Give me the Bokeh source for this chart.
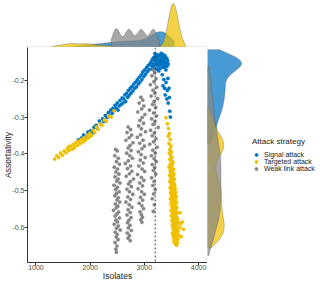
import numpy as np
from bokeh.plotting import figure
from bokeh.models import Span, Legend, LegendItem, Range1d, FixedTicker, PrintfTickFormatter, Spacer
from bokeh.layouts import column, row
from bokeh.embed import file_html
from bokeh.resources import INLINE

FONT = "Liberation Sans"
strategies = ["Signal attack", "Targeted attack", "Weak link attack"]
palette = ["#0073C2", "#EFC000", "#868686"]
x_ticks = [1000, 2000, 3000, 4000]
y_ticks = [-0.6, -0.5, -0.4, -0.3, -0.2]
threshold = 3200

# ---- Signal attack (blue) ----
signal_arm_low = [(1785,-0.362),(1840,-0.357),(1880,-0.349),(1925,-0.352),(1960,-0.341),(2010,-0.337),
    (2045,-0.343),(2070,-0.328),(2110,-0.322),(2135,-0.331),(2170,-0.311),(2195,-0.318),(2230,-0.305),
    (2255,-0.312),(2280,-0.296),(2310,-0.301),(2335,-0.288),(2350,-0.297),(2380,-0.281),(2405,-0.290),(2420,-0.276)]
signal_arm_mid = [(2440,-0.283),(2460,-0.268),(2480,-0.276),(2500,-0.262),(2515,-0.281),(2535,-0.270),(2550,-0.255),
    (2570,-0.266),(2590,-0.248),(2605,-0.262),(2620,-0.251),(2640,-0.240),(2655,-0.258),(2670,-0.236),(2690,-0.247),
    (2705,-0.228),(2720,-0.241),(2740,-0.222),(2755,-0.235),(2770,-0.217),(2790,-0.229),(2805,-0.210),(2820,-0.222),
    (2840,-0.205),(2855,-0.218),(2870,-0.199),(2890,-0.210),(2905,-0.192),(2920,-0.205),(2940,-0.186),(2955,-0.198),
    (2970,-0.178),(2990,-0.190),(3005,-0.172),(3020,-0.184),(3040,-0.166),(3055,-0.177),(3070,-0.160),(3090,-0.171),(3105,-0.155)]
signal_peak = [(3125,-0.150),(3140,-0.162),(3150,-0.143),(3165,-0.155),(3175,-0.138),(3185,-0.168),(3195,-0.147),
    (3205,-0.135),(3215,-0.158),(3225,-0.142),(3232,-0.170),(3240,-0.131),(3248,-0.151),(3255,-0.162),(3262,-0.139),
    (3270,-0.147),(3278,-0.133),(3285,-0.156),(3292,-0.168),(3300,-0.141),(3308,-0.150),(3315,-0.136),(3322,-0.160),
    (3330,-0.144),(3338,-0.131),(3345,-0.153),(3352,-0.165),(3360,-0.139),(3368,-0.148),(3375,-0.157),(3383,-0.134),
    (3390,-0.145),(3398,-0.172),(3405,-0.152),(3413,-0.140),(3420,-0.161),(3430,-0.147),(3440,-0.156),(3265,-0.175),
    (3195,-0.128),(3310,-0.127),(3355,-0.131),(3175,-0.160),(3235,-0.153),(3290,-0.137),(3345,-0.143),(3400,-0.163),(3150,-0.170)]
signal_tail = [(3330,-0.185),(3360,-0.198),(3345,-0.215),(3400,-0.206),(3425,-0.228),(3385,-0.240),(3455,-0.222),
    (3440,-0.262),(3470,-0.284),(3415,-0.251),(3375,-0.222),(3462,-0.247),(3435,-0.195),(3480,-0.300)]

# ---- Targeted attack (yellow) ----
targeted_arm_left = [(1345,-0.414),(1385,-0.405),(1420,-0.410),(1455,-0.398),(1490,-0.404),(1520,-0.392),(1555,-0.397),
    (1580,-0.386),(1610,-0.391),(1640,-0.379),(1665,-0.387),(1690,-0.374),(1715,-0.380),(1740,-0.369),(1765,-0.377),
    (1790,-0.365),(1815,-0.372),(1840,-0.361),(1865,-0.368),(1890,-0.356),(1915,-0.362),(1940,-0.350),(1970,-0.357),
    (1995,-0.344),(2025,-0.350),(2055,-0.336),(2085,-0.342),(2115,-0.327),(2150,-0.333),(2185,-0.318),(2220,-0.323),
    (2260,-0.308),(2300,-0.312),(2340,-0.297),(2390,-0.300),(2440,-0.283),(1700,-0.385),(1600,-0.381),(1880,-0.364),(2000,-0.352)]
targeted_arm_right_top = [(3398,-0.302),(3425,-0.318),(3445,-0.331),(3462,-0.345),(3440,-0.352),(3478,-0.361),(3455,-0.372),
    (3490,-0.379),(3470,-0.388),(3500,-0.395),(3462,-0.398),(3485,-0.405),(3510,-0.410),(3470,-0.415),(3495,-0.419),
    (3530,-0.423),(3480,-0.428),(3515,-0.431),(3455,-0.436),(3500,-0.439),(3540,-0.442),(3475,-0.446),(3520,-0.449),
    (3490,-0.452),(3545,-0.455),(3465,-0.458),(3510,-0.461),(3530,-0.464),(3485,-0.467),(3555,-0.469),(3500,-0.472),
    (3470,-0.475),(3525,-0.477),(3545,-0.480),(3490,-0.482),(3515,-0.484),(3560,-0.486)]
targeted_arm_right_low = [(3505,-0.488),(3540,-0.490),(3475,-0.492),(3570,-0.494),(3525,-0.496),(3495,-0.498),(3555,-0.500),
    (3515,-0.502),(3580,-0.504),(3485,-0.506),(3545,-0.508),(3530,-0.510),(3565,-0.512),(3500,-0.514),(3590,-0.516),
    (3520,-0.518),(3550,-0.520),(3480,-0.522),(3575,-0.524),(3535,-0.526),(3510,-0.528),(3560,-0.530),(3595,-0.532),
    (3490,-0.534),(3545,-0.536),(3525,-0.538),(3570,-0.540),(3505,-0.542),(3555,-0.544),(3600,-0.546),(3535,-0.548),
    (3515,-0.550),(3580,-0.552),(3495,-0.554),(3560,-0.556),(3540,-0.558),(3610,-0.560),(3520,-0.562),(3575,-0.564),
    (3550,-0.566),(3500,-0.568),(3590,-0.570),(3530,-0.572),(3565,-0.574),(3615,-0.576),(3545,-0.578),(3510,-0.580),
    (3585,-0.582),(3555,-0.584),(3625,-0.586),(3525,-0.588),(3570,-0.590),(3600,-0.592),(3540,-0.594),(3515,-0.596),
    (3580,-0.598),(3635,-0.600),(3555,-0.602),(3530,-0.604),(3595,-0.606),(3565,-0.608),(3620,-0.610),(3545,-0.612),
    (3585,-0.614),(3520,-0.616),(3605,-0.618),(3560,-0.620),(3640,-0.622),(3535,-0.624),(3575,-0.626),(3600,-0.628),
    (3550,-0.630),(3620,-0.632),(3565,-0.634),(3590,-0.636),(3545,-0.639),(3610,-0.642),(3575,-0.645),(3595,-0.648),
    (3720,-0.605),(3700,-0.585),(3680,-0.625),(3660,-0.560),(3650,-0.600),(3670,-0.590)]

# ---- Weak link attack (grey), four columns ----
weak_col1 = [(2470,-0.388),(2500,-0.392),(2455,-0.405),(2520,-0.412),(2485,-0.421),(2540,-0.428),(2445,-0.436),(2505,-0.441),
    (2475,-0.449),(2530,-0.455),(2460,-0.462),(2515,-0.468),(2490,-0.474),(2550,-0.479),(2440,-0.485),(2500,-0.491),
    (2470,-0.497),(2535,-0.503),(2485,-0.508),(2455,-0.514),(2520,-0.519),(2495,-0.525),(2545,-0.531),(2465,-0.536),
    (2510,-0.542),(2480,-0.547),(2430,-0.553),(2525,-0.558),(2495,-0.563),(2460,-0.569),(2540,-0.574),(2475,-0.580),
    (2505,-0.585),(2445,-0.591),(2520,-0.596),(2485,-0.602),(2555,-0.607),(2465,-0.613),(2500,-0.619),(2480,-0.626),
    (2515,-0.633),(2460,-0.641),(2495,-0.650),(2475,-0.659),(2485,-0.667)]
weak_col2 = [(2700,-0.327),(2745,-0.334),(2680,-0.342),(2765,-0.349),(2720,-0.356),(2660,-0.363),(2790,-0.370),(2735,-0.377),
    (2700,-0.384),(2755,-0.391),(2675,-0.398),(2730,-0.405),(2780,-0.412),(2705,-0.419),(2650,-0.426),(2745,-0.433),
    (2690,-0.440),(2770,-0.447),(2725,-0.454),(2665,-0.461),(2800,-0.468),(2740,-0.475),(2710,-0.482),(2760,-0.489),
    (2680,-0.496),(2725,-0.503),(2785,-0.510),(2695,-0.517),(2745,-0.524),(2660,-0.531),(2720,-0.538),(2770,-0.545),
    (2700,-0.552),(2740,-0.559),(2680,-0.566),(2755,-0.573),(2715,-0.580),(2690,-0.587),(2735,-0.594),(2705,-0.601),
    (2760,-0.608),(2685,-0.615),(2725,-0.622),(2700,-0.629),(2740,-0.636)]
weak_col3 = [(2935,-0.246),(2970,-0.254),(2905,-0.262),(2990,-0.270),(2950,-0.278),(2880,-0.286),(3010,-0.293),(2960,-0.301),
    (2920,-0.309),(2985,-0.317),(2895,-0.324),(2945,-0.332),(3020,-0.340),(2930,-0.348),(2870,-0.355),(2975,-0.363),
    (2915,-0.371),(3000,-0.379),(2955,-0.386),(2890,-0.394),(2940,-0.402),(3015,-0.410),(2925,-0.417),(2980,-0.425),
    (2900,-0.433),(2960,-0.441),(3005,-0.448),(2875,-0.456),(2945,-0.464),(2990,-0.472),(2915,-0.479),(2965,-0.487),
    (2885,-0.495),(2950,-0.503),(3000,-0.510),(2930,-0.518),(2970,-0.526),(2905,-0.534),(2955,-0.541),(2985,-0.549),
    (2920,-0.557),(2945,-0.565),(2965,-0.572),(2935,-0.579),(2955,-0.586)]
weak_col4 = [(3165,-0.172),(3190,-0.180),(3140,-0.188),(3215,-0.196),(3175,-0.204),(3110,-0.212),(3230,-0.219),(3160,-0.227),
    (3195,-0.235),(3125,-0.243),(3245,-0.250),(3180,-0.258),(3150,-0.266),(3210,-0.274),(3095,-0.281),(3170,-0.289),
    (3225,-0.297),(3135,-0.305),(3195,-0.312),(3160,-0.320),(3255,-0.328),(3115,-0.336),(3185,-0.343),(3145,-0.351),
    (3215,-0.359),(3170,-0.367),(3100,-0.374),(3235,-0.382),(3155,-0.390),(3200,-0.398),(3130,-0.405),(3180,-0.413),
    (3220,-0.421),(3145,-0.429),(3190,-0.437),(3165,-0.445),(3210,-0.455),(3135,-0.465),(3180,-0.475),(3155,-0.486),
    (3200,-0.497),(3170,-0.509),(3145,-0.522),(3185,-0.538),(3165,-0.556)]

groups = [
    signal_arm_low + signal_arm_mid + signal_peak + signal_tail,
    targeted_arm_left + targeted_arm_right_top + targeted_arm_right_low,
    weak_col1 + weak_col2 + weak_col3 + weak_col4,
]
bw_x = [150, 75, 65]
bw_y = [0.02, 0.015, 0.02]


def kde(v, bw):
    v = np.asarray(v, float)
    g = np.linspace(v.min() - 0.5 * bw, v.max() + 0.5 * bw, 300)
    d = np.exp(-0.5 * ((g[:, None] - v[None, :]) / bw) ** 2).sum(1) / (len(v) * bw * np.sqrt(2 * np.pi))
    return g, d


xr = Range1d(844, 4165)
yr = Range1d(-0.695, -0.111)

common = dict(output_backend="svg", toolbar_location=None)

main = figure(width=207, height=236, x_range=xr, y_range=yr, min_border_left=26, min_border_right=0,
              min_border_top=0, min_border_bottom=21, **common)
main.outline_line_color = None
main.grid.visible = False
main.background_fill_color = "white"

for pts, col in zip(groups, palette):
    main.scatter(x=[p[0] for p in pts], y=[p[1] for p in pts], size=3.6, fill_color=col,
                 line_color=col, line_width=0.2)

main.add_layout(Span(location=threshold, dimension="height", line_color="#333333",
                     line_width=0.9, line_dash="2 2"))

main.xaxis.ticker = FixedTicker(ticks=x_ticks)
main.yaxis.ticker = FixedTicker(ticks=y_ticks)
main.yaxis.formatter = PrintfTickFormatter(format="%.1f")
main.xaxis.axis_label = "Isolates"
main.yaxis.axis_label = "Assortativity"
for ax in (main.xaxis[0], main.yaxis[0]):
    ax.axis_label_text_font = FONT
    ax.axis_label_text_font_size = "8.5px"
    ax.axis_label_text_font_style = "normal"
    ax.axis_label_text_color = "#1a1a1a"
    ax.major_label_text_font = FONT
    ax.major_label_text_font_size = "7px"
    ax.major_label_text_color = "#4d4d4d"
    ax.axis_line_color = "#333333"
    ax.axis_line_width = 1
    ax.major_tick_line_color = "#333333"
    ax.major_tick_out = 3
    ax.major_tick_in = 0
    ax.minor_tick_line_color = None
main.xaxis[0].major_label_standoff = -1
main.xaxis[0].axis_label_standoff = -2
main.yaxis[0].major_label_standoff = 0
main.yaxis[0].axis_label_standoff = -4

# marginal densities
dens_x = [kde([p[0] for p in pts], bw) for pts, bw in zip(groups, bw_x)]
dens_y = [kde([p[1] for p in pts], bw) for pts, bw in zip(groups, bw_y)]
top_max = max(d.max() for _, d in dens_x)
right_max = max(d.max() for _, d in dens_y)

top = figure(width=207, height=47, x_range=xr, y_range=Range1d(0, top_max / 0.935),
             min_border_left=26, min_border_right=0, min_border_top=0, min_border_bottom=0,
             x_axis_location=None, y_axis_location=None, **common)
top.outline_line_color = None
top.grid.visible = False
for (g, d), col in zip(dens_x, palette):
    top.patch(np.r_[g[0], g, g[-1]], np.r_[0, d, 0], fill_color=col, fill_alpha=0.72,
              line_color="#5a5a5a", line_width=0.5, line_alpha=0.7)
top.add_layout(Span(location=0, dimension="width", line_color="#b0b0b0", line_width=1.5))

right = figure(width=36, height=236, x_range=Range1d(0, right_max / 0.945), y_range=yr,
               min_border_left=0, min_border_right=0, min_border_top=0, min_border_bottom=21,
               x_axis_location=None, y_axis_location=None, **common)
right.outline_line_color = None
right.grid.visible = False
for (g, d), col in zip(dens_y, palette):
    right.patch(np.r_[0, d, 0], np.r_[g[0], g, g[-1]], fill_color=col, fill_alpha=0.72,
                line_color="#5a5a5a", line_width=0.5, line_alpha=0.7)

# legend panel: one data point per group, outside this panel's visible range
leg = figure(width=77, height=236, x_range=Range1d(0, 1), y_range=Range1d(0, 1),
             min_border_left=0, min_border_right=0, min_border_top=0, min_border_bottom=0,
             x_axis_location=None, y_axis_location=None, **common)
leg.outline_line_color = None
leg.grid.visible = False
items = []
for name, col, pts in zip(strategies, palette, groups):
    r = leg.scatter(x=[pts[0][0]], y=[pts[0][1]], size=3.6, fill_color=col, line_color=col)
    items.append(LegendItem(label=name, renderers=[r]))
legend = Legend(items=items, title="Attack strategy", location=(9, 90),
                title_text_font=FONT, title_text_font_size="8px", title_text_color="#1a1a1a",
                title_text_font_style="normal", title_standoff=5,
                label_text_font=FONT, label_text_font_size="7px", label_text_color="#1a1a1a",
                label_height=7, glyph_height=7, glyph_width=8, label_standoff=4,
                spacing=0, padding=0, margin=0, border_line_color=None, background_fill_alpha=0)
leg.add_layout(legend)

layout = column(row(top, Spacer(width=113, height=47)), row(main, right, leg))

open("out.html", "w").write(file_html(layout, INLINE))
